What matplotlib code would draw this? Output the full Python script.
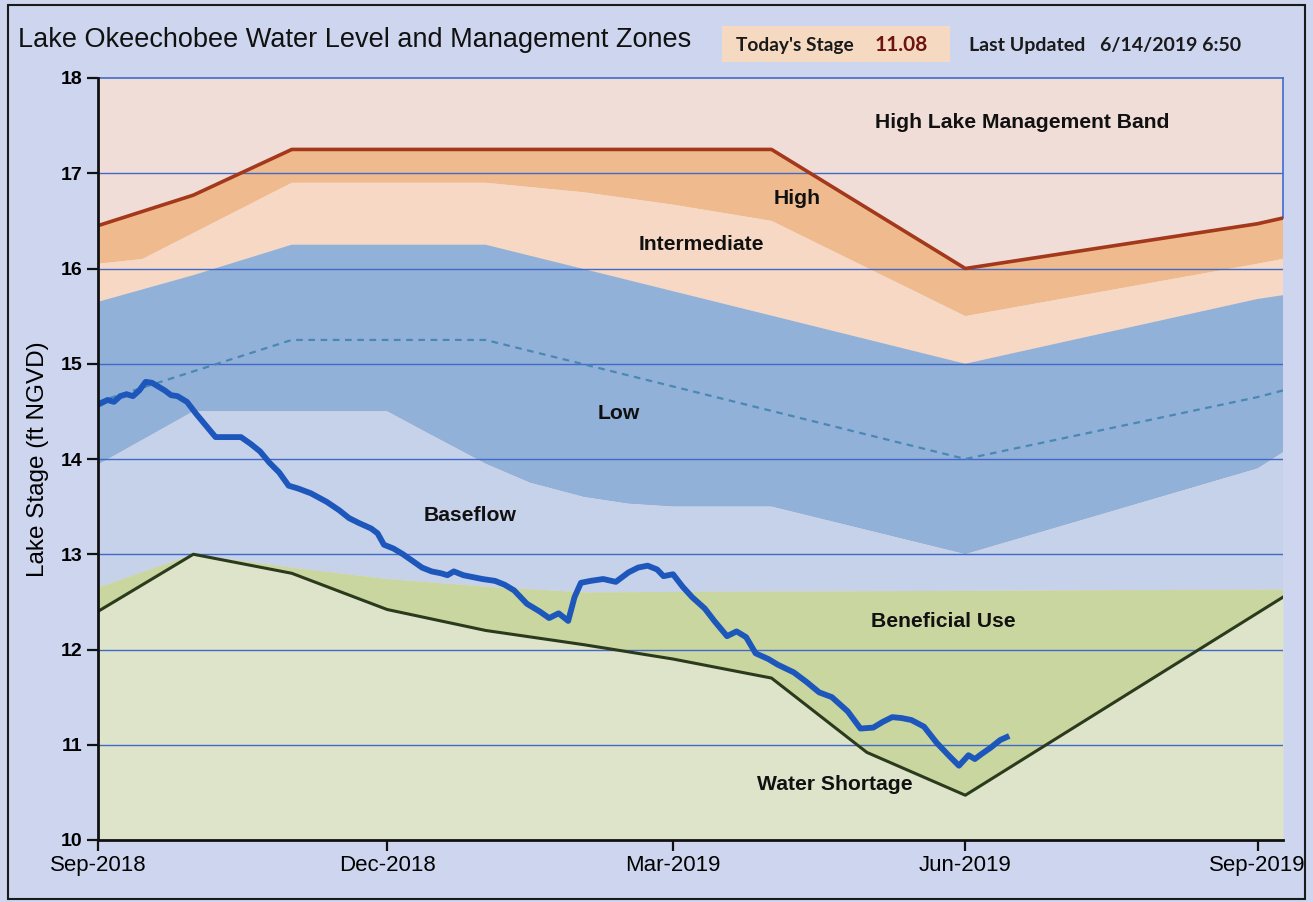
import numpy as np
import matplotlib
matplotlib.use('Agg')
import matplotlib.pyplot as plt
import matplotlib.dates as mdates
from matplotlib.patches import Rectangle


def days(lst):
    return np.array(lst, dtype='datetime64[D]')


# zone boundaries (ft NGVD)
high_top_dates = days(['2018-09-01', '2018-10-01', '2018-11-01', '2019-04-01', '2019-06-01', '2019-09-01', '2019-09-09'])
high_top_vals = [16.45, 16.77, 17.25, 17.25, 16.0, 16.47, 16.53]

high_int_dates = days(['2018-09-01', '2018-09-15', '2018-11-01', '2019-01-01', '2019-02-01', '2019-03-01', '2019-04-01',
                       '2019-06-01', '2019-09-01', '2019-09-09'])
high_int_vals = [16.05, 16.1, 16.9, 16.9, 16.8, 16.67, 16.5, 15.5, 16.05, 16.1]

int_low_dates = days(['2018-09-01', '2018-10-01', '2018-11-01', '2019-01-01', '2019-06-01', '2019-09-01', '2019-09-09'])
int_low_vals = [15.65, 15.93, 16.25, 16.25, 15.0, 15.68, 15.72]

mid_low_dates = days(['2018-09-01', '2018-11-01', '2019-01-01', '2019-06-01', '2019-09-01', '2019-09-09'])
mid_low_vals = [14.6, 15.25, 15.25, 14.0, 14.65, 14.72]

low_base_dates = days(['2018-09-01', '2018-10-01', '2018-12-01', '2018-12-15', '2019-01-01', '2019-01-15', '2019-02-01',
                       '2019-02-15', '2019-03-01', '2019-04-01', '2019-06-01', '2019-09-01', '2019-09-09'])
low_base_vals = [13.94, 14.5, 14.5, 14.25, 13.95, 13.75, 13.6, 13.53, 13.5, 13.5, 13.0, 13.9, 14.07]

benef_top_dates = days(['2018-09-01', '2018-10-01', '2018-11-01', '2018-12-01', '2019-01-01', '2019-02-01', '2019-09-09'])
benef_top_vals = [12.65, 13.0, 12.86, 12.74, 12.66, 12.6, 12.63]

shortage_dates = days(['2018-09-01', '2018-10-01', '2018-11-01', '2018-12-01', '2019-01-01', '2019-02-01', '2019-03-01',
                       '2019-04-01', '2019-05-01', '2019-06-01', '2019-09-09'])
shortage_vals = [12.4, 13.0, 12.8, 12.42, 12.2, 12.05, 11.9, 11.7, 10.92, 10.47, 12.55]

# observed lake stage
stage_dates = days([
    '2018-09-01', '2018-09-04', '2018-09-06', '2018-09-08', '2018-09-10', '2018-09-12', '2018-09-14', '2018-09-16',
    '2018-09-18', '2018-09-20', '2018-09-22', '2018-09-24', '2018-09-26', '2018-09-29', '2018-10-02', '2018-10-05',
    '2018-10-08', '2018-10-12', '2018-10-16', '2018-10-19', '2018-10-22', '2018-10-25', '2018-10-28', '2018-10-31',
    '2018-11-03', '2018-11-07', '2018-11-12', '2018-11-16', '2018-11-19', '2018-11-22', '2018-11-26', '2018-11-28',
    '2018-11-30', '2018-12-03', '2018-12-06', '2018-12-09', '2018-12-12', '2018-12-15', '2018-12-18', '2018-12-20',
    '2018-12-22', '2018-12-25', '2018-12-28', '2018-12-31', '2019-01-04', '2019-01-07', '2019-01-10', '2019-01-14',
    '2019-01-18', '2019-01-21', '2019-01-24', '2019-01-27', '2019-01-29', '2019-01-31', '2019-02-03', '2019-02-07',
    '2019-02-11', '2019-02-15', '2019-02-18', '2019-02-21', '2019-02-24', '2019-02-26', '2019-03-01', '2019-03-04',
    '2019-03-07', '2019-03-11', '2019-03-14', '2019-03-18', '2019-03-21', '2019-03-24', '2019-03-27', '2019-03-31',
    '2019-04-03', '2019-04-08', '2019-04-12', '2019-04-16', '2019-04-20', '2019-04-25', '2019-04-29', '2019-05-03',
    '2019-05-06', '2019-05-09', '2019-05-12', '2019-05-15', '2019-05-19', '2019-05-23', '2019-05-27', '2019-05-30',
    '2019-06-02', '2019-06-04', '2019-06-06', '2019-06-09', '2019-06-12', '2019-06-14'])
stage_vals = [
    14.57, 14.62, 14.60, 14.66, 14.68, 14.66, 14.72, 14.81,
    14.80, 14.76, 14.72, 14.67, 14.66, 14.60, 14.47, 14.35,
    14.23, 14.23, 14.23, 14.16, 14.08, 13.96, 13.86, 13.72,
    13.69, 13.64, 13.55, 13.46, 13.38, 13.33, 13.27, 13.22,
    13.10, 13.06, 13.00, 12.93, 12.86, 12.82, 12.80, 12.78,
    12.82, 12.78, 12.76, 12.74, 12.72, 12.68, 12.62, 12.48,
    12.40, 12.33, 12.38, 12.30, 12.55, 12.70, 12.72, 12.74,
    12.71, 12.81, 12.86, 12.88, 12.84, 12.77, 12.79, 12.66,
    12.55, 12.43, 12.30, 12.14, 12.19, 12.13, 11.96, 11.90,
    11.84, 11.76, 11.66, 11.55, 11.50, 11.35, 11.17, 11.18,
    11.24, 11.29, 11.28, 11.26, 11.19, 11.02, 10.88, 10.78,
    10.89, 10.85, 10.90, 10.97, 11.05, 11.08]

zone_names = ['High Lake Management Band', 'High', 'Intermediate', 'Low', 'Baseflow', 'Beneficial Use', 'Water Shortage']
zone_label_dates = days(['2019-06-19', '2019-04-09', '2019-03-10', '2019-02-12', '2018-12-27', '2019-05-25', '2019-04-21'])
zone_label_vals = [17.53, 16.74, 16.25, 14.48, 13.41, 12.29, 10.58]

todays_stage = '11.08'
last_updated = '6/14/2019 6:50'

arial = ['Liberation Sans', 'DejaVu Sans']
calibri = ['Lato', 'Open Sans', 'DejaVu Sans']

W, H = 1313, 902
fig = plt.figure(figsize=(W / 100, H / 100), dpi=100, facecolor='#cdd6ee')
fig.patches.append(Rectangle((8 / W, 3 / H), 1297 / W, 894 / H, transform=fig.transFigure,
                             fill=False, edgecolor='#1a1a1a', lw=1.5))
ax = fig.add_axes([98 / W, 1 - 840 / H, (1283 - 98) / W, (840 - 78) / H])
ax.set_facecolor('#f1ddd8')


def band(upper_d, upper_v, lower_d, lower_v, color):
    xs = np.concatenate([upper_d, lower_d[::-1]])
    ys = np.concatenate([upper_v, lower_v[::-1]])
    ax.fill(xs, ys, color=color, lw=0, zorder=1)


band(high_top_dates, high_top_vals, high_int_dates, high_int_vals, '#efbb8e')
band(high_int_dates, high_int_vals, int_low_dates, int_low_vals, '#f6d8c4')
band(int_low_dates, int_low_vals, low_base_dates, low_base_vals, '#92b1d8')
band(low_base_dates, low_base_vals, benef_top_dates, benef_top_vals, '#c6d1ea')
band(benef_top_dates, benef_top_vals, shortage_dates, shortage_vals, '#c9d69f')
ax.fill_between(shortage_dates, shortage_vals, 10, color='#dde4ca', lw=0, zorder=1)

for v in range(11, 18):
    ax.axhline(v, color='#4169c8', lw=1.0, zorder=2)

ax.plot(high_top_dates, high_top_vals, color='#a4381b', lw=2.6, zorder=3)
ax.plot(mid_low_dates, mid_low_vals, color='#4a88b4', lw=1.6, ls=(0, (3, 2.5)), zorder=3)
ax.plot(shortage_dates, shortage_vals, color='#2b3a1d', lw=2.2, zorder=3)
ax.plot(stage_dates, stage_vals, color='#1e57bb', lw=4.2, zorder=4, solid_joinstyle='round')

for name, xd, yv in zip(zone_names, zone_label_dates, zone_label_vals):
    ax.text(xd, yv, name, ha='center', va='center', fontsize=15.2, fontweight='bold',
            family=arial, color='#111111', zorder=5)

ax.set_ylim(10, 18)
ax.set_xlim(np.datetime64('2018-09-01'), np.datetime64('2019-09-09'))
ax.set_yticks(range(10, 19))
ax.xaxis.set_major_locator(mdates.MonthLocator(bymonth=[3, 6, 9, 12]))
ax.xaxis.set_major_formatter(mdates.DateFormatter('%b-%Y'))
ax.tick_params(axis='both', direction='out', length=8, width=1.6, color='#111111')
ax.tick_params(axis='x', pad=3)
for lab in ax.get_yticklabels():
    lab.set_family(arial)
    lab.set_fontweight('bold')
    lab.set_fontsize(14)
for lab in ax.get_xticklabels():
    lab.set_family(arial)
    lab.set_fontsize(16)
ax.set_ylabel('Lake Stage (ft NGVD)', family=arial, fontsize=17.5, labelpad=8)

for s in ['left', 'bottom']:
    ax.spines[s].set_color('#111111')
    ax.spines[s].set_linewidth(2)
    ax.spines[s].set_zorder(6)
ax.spines['top'].set_color('#3f6cd0')
ax.spines['top'].set_linewidth(1.2)
ax.spines['right'].set_color('#3f6cd0')
ax.spines['right'].set_linewidth(1.2)
ax.spines['right'].set_bounds(high_top_vals[-1], 18)

fig.text(18 / W, 1 - 47 / H, 'Lake Okeechobee Water Level and Management Zones',
         family=arial, fontsize=19.5, color='#111111', ha='left', va='baseline')
fig.patches.append(Rectangle((722 / W, 1 - 62 / H), 228 / W, 36 / H, transform=fig.transFigure,
                             facecolor='#f5d9c0', edgecolor='none'))
fig.text(736 / W, 1 - 51 / H, "Today's Stage", family=calibri, fontweight='bold', fontsize=13.8,
         color='#1a1a1a', va='baseline')
fig.text(875 / W, 1 - 51 / H, todays_stage, family=calibri, fontweight='bold', fontsize=15,
         color='#6e1410', va='baseline')
fig.text(969 / W, 1 - 51 / H, 'Last Updated', family=calibri, fontweight='bold', fontsize=14,
         color='#1a1a1a', va='baseline')
fig.text(1100 / W, 1 - 51 / H, last_updated, family=calibri, fontweight='bold', fontsize=14,
         color='#1a1a1a', va='baseline')

fig.savefig('out.png', dpi=100, facecolor=fig.get_facecolor())
